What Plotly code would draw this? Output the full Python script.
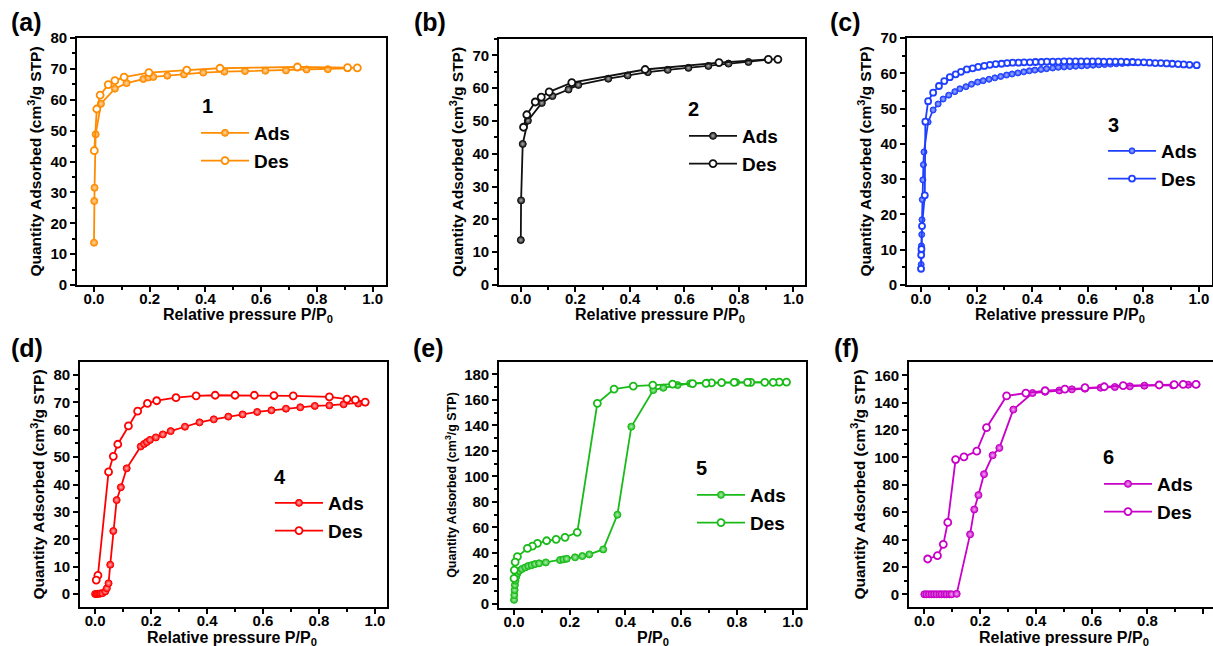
import plotly.graph_objects as go

W, H = 1213, 646

# ---------------- data ----------------
# Panel (a) sample 1
a_ads_x = [0.000, 0.001, 0.002, 0.006, 0.025, 0.075, 0.117, 0.177, 0.195, 0.213, 0.263, 0.323, 0.392, 0.468, 0.542, 0.615, 0.689, 0.763, 0.839, 0.910]
a_ads_y = [13.7, 27.2, 31.5, 48.8, 58.7, 63.6, 65.4, 66.7, 67.2, 67.4, 67.8, 68.2, 68.8, 69.1, 69.3, 69.4, 69.5, 69.8, 69.9, 70.2]
a_des_x = [0.945, 0.910, 0.730, 0.452, 0.333, 0.197, 0.108, 0.075, 0.051, 0.022, 0.010, 0.001]
a_des_y = [70.3, 70.4, 70.6, 70.2, 69.6, 68.8, 67.3, 66.2, 64.9, 61.5, 57.0, 43.5]

# Panel (b) sample 2
b_ads_x = [0.000, 0.001, 0.007, 0.026, 0.077, 0.116, 0.175, 0.211, 0.321, 0.392, 0.466, 0.539, 0.615, 0.688, 0.762, 0.835, 0.908]
b_ads_y = [13.7, 25.8, 43.0, 50.1, 55.5, 57.6, 59.6, 61.0, 62.9, 63.9, 64.9, 65.6, 66.2, 66.8, 67.5, 68.0, 68.7]
b_des_x = [0.943, 0.908, 0.727, 0.456, 0.187, 0.104, 0.075, 0.053, 0.022, 0.010]
b_des_y = [68.8, 68.8, 67.8, 65.7, 61.7, 58.9, 57.3, 55.8, 51.9, 48.1]

# Panel (c) sample 3
c_ads_x = [0.0005, 0.001, 0.0015, 0.002, 0.003, 0.004, 0.005, 0.007, 0.009, 0.011, 0.026, 0.044, 0.062, 0.080, 0.100,
           0.122, 0.140, 0.162, 0.182, 0.204, 0.224, 0.245, 0.266, 0.287, 0.308, 0.328, 0.349, 0.370, 0.390, 0.410,
           0.432, 0.452, 0.474, 0.494, 0.515, 0.536, 0.557, 0.578, 0.598, 0.619, 0.640, 0.661, 0.682, 0.703, 0.724,
           0.745, 0.766]
c_ads_y = [4.8, 5.8, 9.5, 11.1, 14.3, 18.5, 24.2, 29.8, 34.1, 37.7, 46.2, 49.6, 51.3, 52.7, 53.8,
           54.8, 55.6, 56.2, 56.9, 57.5, 57.9, 58.3, 58.7, 59.1, 59.5, 59.8, 60.1, 60.4, 60.7, 60.9,
           61.1, 61.3, 61.5, 61.7, 61.8, 61.9, 62.0, 62.1, 62.2, 62.3, 62.4, 62.5, 62.6, 62.7, 62.8,
           62.9, 63.0]
c_des_x = [0.992, 0.966, 0.945, 0.925, 0.904, 0.884, 0.863, 0.843, 0.822, 0.802, 0.781, 0.761, 0.740, 0.720, 0.699,
           0.679, 0.658, 0.638, 0.617, 0.597, 0.576, 0.556, 0.535, 0.515, 0.494, 0.474, 0.453, 0.433, 0.412, 0.392,
           0.371, 0.351, 0.330, 0.310, 0.290, 0.269, 0.248, 0.228, 0.206, 0.186, 0.165, 0.144, 0.125, 0.104, 0.084,
           0.065, 0.044, 0.026, 0.016, 0.014, 0.004, 0.002, 0.001, 0.0005]
c_des_y = [62.3, 62.4, 62.5, 62.6, 62.7, 62.8, 62.9, 62.9, 63.0, 63.1, 63.1, 63.2, 63.2, 63.3, 63.3,
           63.3, 63.3, 63.4, 63.4, 63.4, 63.4, 63.4, 63.4, 63.4, 63.3, 63.3, 63.3, 63.2, 63.2, 63.1,
           63.1, 63.0, 63.0, 62.9, 62.7, 62.6, 62.4, 62.1, 61.8, 61.4, 61.1, 60.4, 59.7, 58.9, 57.8,
           56.4, 54.5, 52.1, 46.3, 25.4, 16.7, 10.2, 8.5, 4.6]

# Panel (d) sample 4
d_ads_x = [0.000, 0.005, 0.010, 0.015, 0.020, 0.026, 0.036, 0.042, 0.048, 0.054, 0.065, 0.077, 0.092, 0.113, 0.163,
           0.175, 0.185, 0.196, 0.217, 0.242, 0.270, 0.321, 0.373, 0.424, 0.476, 0.527, 0.579, 0.630, 0.682, 0.733,
           0.785, 0.837, 0.888, 0.940, 0.965]
d_ads_y = [0.0, 0.0, 0.1, 0.1, 0.2, 0.3, 0.9, 2.1, 3.9, 10.7, 23.0, 34.3, 39.0, 45.9, 53.9,
           54.8, 55.5, 56.3, 57.2, 58.3, 59.5, 61.1, 62.7, 63.8, 64.8, 65.6, 66.5, 67.1, 67.7, 68.2,
           68.7, 68.9, 69.3, 69.6, 70.0]
d_des_x = [0.965, 0.930, 0.900, 0.837, 0.708, 0.639, 0.569, 0.500, 0.429, 0.361, 0.289, 0.220, 0.187, 0.152, 0.119,
           0.081, 0.065, 0.048, 0.010, 0.004]
d_des_y = [70.1, 70.9, 71.2, 72.0, 72.4, 72.5, 72.6, 72.6, 72.6, 72.4, 71.7, 70.6, 69.6, 66.8, 61.4,
           54.7, 50.3, 44.6, 6.8, 5.1]

# Panel (e) sample 5
e_ads_x = [0.000, 0.001, 0.002, 0.003, 0.005, 0.008, 0.012, 0.018, 0.028, 0.040, 0.051, 0.063, 0.075, 0.090, 0.114,
           0.165, 0.177, 0.189, 0.219, 0.245, 0.270, 0.320, 0.371, 0.421, 0.500, 0.536, 0.587, 0.632, 0.692, 0.745,
           0.797, 0.848, 0.950]
e_ads_y = [3.3, 7.0, 11.0, 14.9, 18.3, 21.4, 24.0, 25.9, 27.4, 28.7, 29.8, 30.5, 31.3, 31.9, 32.6,
           34.5, 35.0, 35.5, 36.6, 37.6, 38.9, 42.8, 70.0, 139.0, 167.7, 169.5, 171.6, 172.9, 173.5, 173.7,
           173.8, 173.8, 173.9]
e_des_x = [0.978, 0.952, 0.930, 0.900, 0.850, 0.838, 0.790, 0.745, 0.709, 0.689, 0.641, 0.569, 0.498, 0.428, 0.359,
           0.299, 0.227, 0.183, 0.151, 0.117, 0.084, 0.066, 0.048, 0.012, 0.004, 0.001, 0.000]
e_des_y = [173.9, 173.9, 173.8, 173.8, 173.8, 173.8, 173.7, 173.5, 173.3, 173.0, 172.8, 172.4, 171.6, 170.8, 168.5,
           157.3, 56.2, 52.3, 50.7, 49.6, 47.5, 45.4, 43.6, 37.1, 32.9, 26.6, 20.1]

# Panel (f) sample 6
f_ads_x = [0.000, 0.008, 0.017, 0.026, 0.035, 0.044, 0.054, 0.062, 0.072, 0.080, 0.090, 0.098, 0.116, 0.164, 0.179,
           0.194, 0.214, 0.245, 0.269, 0.319, 0.388, 0.433, 0.484, 0.529, 0.576, 0.632, 0.683, 0.737, 0.789, 0.892,
           0.946, 0.976]
f_ads_y = [0.0, 0.0, 0.0, 0.0, 0.0, 0.0, 0.0, 0.0, 0.0, 0.0, 0.0, 0.0, 0.3, 43.8, 62.0,
           72.5, 87.8, 101.6, 107.0, 135.0, 147.1, 148.0, 149.0, 149.8, 150.3, 151.0, 151.5, 152.0, 152.5, 152.7,
           153.2, 153.5]
f_des_x = [0.974, 0.928, 0.896, 0.842, 0.713, 0.645, 0.576, 0.504, 0.433, 0.364, 0.295, 0.223, 0.188, 0.142, 0.112,
           0.084, 0.068, 0.047, 0.012]
f_des_y = [153.4, 153.4, 153.2, 153.0, 152.5, 151.7, 151.0, 150.0, 148.8, 147.1, 145.0, 121.8, 104.6, 100.4, 98.5,
           52.5, 36.5, 28.2, 25.8]

panel_labels = ["(a)", "(b)", "(c)", "(d)", "(e)", "(f)"]
sample_names = ["1", "2", "3", "4", "5", "6"]
series_names = ["Ads", "Des"]
x_tick_vals = [0.0, 0.2, 0.4, 0.6, 0.8, 1.0]
x_tick_text = ["0.0", "0.2", "0.4", "0.6", "0.8", "1.0"]
x_titles = ["Relative pressure P/P<sub>0</sub>"] * 4 + ["P/P<sub>0</sub>", "Relative pressure P/P<sub>0</sub>"]
y_title = "Quantity Adsorbed (cm<sup>3</sup>/g STP)"

ads = [(a_ads_x, a_ads_y), (b_ads_x, b_ads_y), (c_ads_x, c_ads_y), (d_ads_x, d_ads_y), (e_ads_x, e_ads_y), (f_ads_x, f_ads_y)]
des = [(a_des_x, a_des_y), (b_des_x, b_des_y), (c_des_x, c_des_y), (d_des_x, d_des_y), (e_des_x, e_des_y), (f_des_x, f_des_y)]

# ---------------- styles / layout ----------------
colors = ["#FF8C00", "#111111", "#1F3FFF", "#FF0000", "#19BB19", "#C800C8"]
highlights = ["#FFD8A8", "#B0B0B0", "#A8B8FF", "#FFB0B0", "#B0F0B0", "#F0A8F0"]
msize = [7, 7, 6, 7, 7, 7]

# plot boxes in pixels: left, right, top, bottom
boxes = [(77, 386, 38, 285), (499, 805, 39, 285), (907, 1212, 38, 285),
         (80, 387, 362, 607), (499, 806, 362, 608), (909, 1213, 362, 607)]
x_ranges = [[-0.061, 1.048], [-0.080, 1.0425], [-0.050, 1.047], [-0.054, 1.043], [-0.054, 1.048], [-0.055, 1.035]]
y_ranges = [[0, 80], [0, 75], [0, 70], [-4.75, 84.75], [-3.1, 189.7], [-9.3, 169.8]]
y_dtick = [10, 10, 10, 10, 20, 20]
# legend: sample line start x, Ads row centre y; number label position
leg_pos = [(200, 132), (688, 135), (1107, 150), (274, 502), (696, 494), (1103, 483)]
num_pos = [(207, 106), (693, 109), (1113, 125), (280, 477), (702, 468), (1108, 457)]
lab_pos = [(9, 22), (412, 22), (828, 22), (9, 348), (411, 348), (832, 348)]
xtitle_pos = [(248, 315), (660, 315), (1060, 315), (232, 638), (653, 638), (1064, 638)]

MB = 32  # bottom margin


def fx(xp):
    return xp / W


def fy(yp):
    return 1 - yp / (H - MB)


fig = go.Figure()
layout = dict(width=W, height=H, margin=dict(l=0, r=0, t=0, b=MB, autoexpand=False),
              paper_bgcolor="white", plot_bgcolor="white", showlegend=True,
              font=dict(family="Arial", color="black"))
annotations = []

for i in range(6):
    k = "" if i == 0 else str(i + 1)
    leg = "legend" if i == 0 else f"legend{i+1}"
    c = colors[i]
    fig.add_trace(go.Scatter(
        x=ads[i][0], y=ads[i][1], mode="lines+markers", name=series_names[0],
        xaxis="x" + k, yaxis="y" + k, legend=leg,
        line=dict(color=c, width=1.8),
        marker=dict(symbol="circle", size=msize[i], color=c,
                    gradient=dict(type="radial", color=highlights[i]),
                    line=dict(color=c, width=1))))
    fig.add_trace(go.Scatter(
        x=des[i][0], y=des[i][1], mode="lines+markers", name=series_names[1],
        xaxis="x" + k, yaxis="y" + k, legend=leg,
        line=dict(color=c, width=1.8),
        marker=dict(symbol="circle", size=msize[i], color="white",
                    line=dict(color=c, width=1.8))))

    l, r, t, b = boxes[i]
    tick_font = dict(family="Arial", size=15, color="black", weight="bold")
    ytitle_font = dict(family="Arial", size=15.5, color="black", weight="bold")
    if i == 4:
        ytitle_font = dict(family="Arial", size=12.5, color="black", weight="bold")
    layout["xaxis" + k] = dict(
        domain=[fx(l), min(fx(r), 1.0)], range=x_ranges[i], anchor="y" + k,
        tickmode="array", tickvals=x_tick_vals, ticktext=x_tick_text,
        ticks="outside", ticklen=5, tickwidth=1.5, tickcolor="black", ticklabelstandoff=-6,
        minor=dict(dtick=0.1, tick0=0, ticks="outside", ticklen=3, tickwidth=1.5, tickcolor="black"),
        showline=True, mirror=True, linecolor="black", linewidth=1.6,
        showgrid=False, zeroline=False, tickfont=tick_font)
    layout["yaxis" + k] = dict(
        domain=[fy(b), fy(t)], range=y_ranges[i], anchor="x" + k,
        dtick=y_dtick[i], tick0=0,
        ticks="outside", ticklen=5, tickwidth=1.5, tickcolor="black",
        minor=dict(dtick=y_dtick[i] / 2, tick0=0, ticks="outside", ticklen=3, tickwidth=1.5, tickcolor="black"),
        showline=True, mirror=True, linecolor="black", linewidth=1.6,
        showgrid=False, zeroline=False, tickfont=tick_font,
        title=dict(text=y_title, font=ytitle_font, standoff=5))

    # x-axis title (as paper annotation so it can sit close to the figure edge)
    tx, ty = xtitle_pos[i]
    annotations.append(dict(text=x_titles[i], x=fx(tx), y=fy(ty), xref="paper", yref="paper",
                            xanchor="center", yanchor="middle", showarrow=False,
                            font=dict(family="Arial", size=16, color="black", weight="bold")))

    lx, ly = leg_pos[i]
    layout[leg] = dict(x=fx(lx - 4), y=fy(ly - 18), xanchor="left", yanchor="top",
                       bgcolor="rgba(0,0,0,0)", borderwidth=0, itemwidth=48,
                       tracegroupgap=0,
                       font=dict(family="Arial", size=19, color="black", weight="bold"))
    nx, ny = num_pos[i]
    annotations.append(dict(text=sample_names[i], x=fx(nx), y=fy(ny), xref="paper", yref="paper",
                            xanchor="center", yanchor="middle", showarrow=False,
                            font=dict(family="Arial", size=20, color="black", weight="bold")))
    px_, py_ = lab_pos[i]
    annotations.append(dict(text=panel_labels[i], x=fx(px_), y=fy(py_), xref="paper", yref="paper",
                            xanchor="left", yanchor="middle", showarrow=False,
                            font=dict(family="Arial", size=25, color="black", weight="bold")))

layout["annotations"] = annotations
fig.update_layout(**layout)
fig.write_html("out.html", config={"displayModeBar": False},
               post_script="document.body.style.margin='0';document.body.style.padding='0';document.body.style.overflow='hidden';")
